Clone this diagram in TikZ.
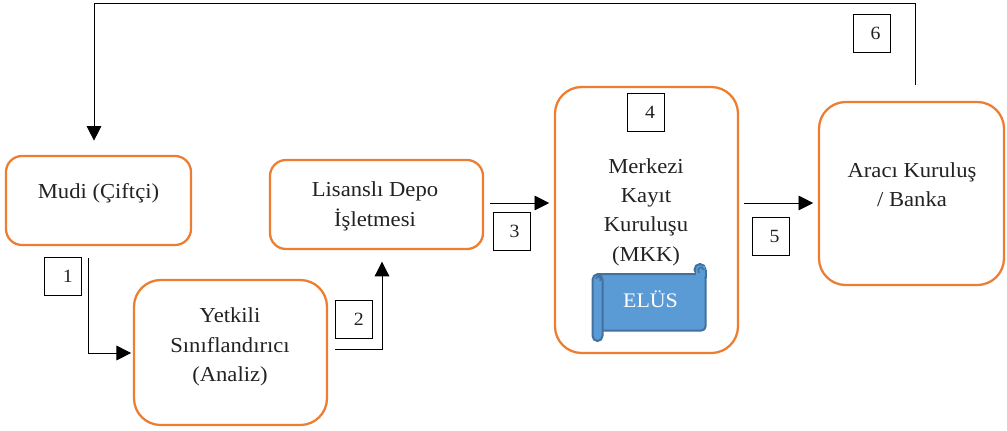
\documentclass[tikz,border=0pt]{standalone}
\usepackage{fontspec}
\setmainfont[FakeStretch=1.06]{Liberation Serif}
\usetikzlibrary{arrows.meta}
\definecolor{orangeline}{HTML}{ED7D31}
\definecolor{scrollfill}{HTML}{5B9BD5}
\definecolor{scrollline}{HTML}{41719C}
\definecolor{lab}{HTML}{222222}
\tikzset{
  x=0.75pt,y=-0.75pt,
  flowbox/.style={draw=orangeline,line width=1.7pt,rounded corners=#1,fill=white,inner sep=0pt},
  flowtext/.style={align=center,font=\fontsize{16}{22}\selectfont,text=lab,inner sep=0pt},
  numbox/.style={draw=black,line width=0.7pt,minimum width=27.8pt,minimum height=28.5pt,inner sep=0pt,font=\fontsize{14}{15}\selectfont,text=lab},
  conn/.style={draw=black,line width=0.65pt},
  arr/.style={conn,-{Triangle[length=11pt,width=11pt]}},
  scrollpart/.style={draw=scrollline,line width=1.5pt,fill=scrollfill,line join=round}
}
\newcommand{\boxat}[6]{\node[flowbox=#6,minimum width=#3*0.75pt,minimum height=#4*0.75pt] (#5) at (#1,#2) {};}
\begin{document}
\begin{tikzpicture}
\useasboundingbox (0,0) rectangle (1007,430);
% boxes
\boxat{98.5}{200.5}{185}{89}{mudi}{12pt}
\node[flowtext] (mudit) at (98.5,193) {Mudi (Çiftçi)};
\boxat{376.5}{204.5}{213}{89}{depo}{12pt}
\node[flowtext] (depot) at (375,206.5) {Lisanslı Depo\\İşletmesi};
\boxat{230.5}{352.5}{193}{145}{yetkili}{20pt}
\node[flowtext] (yetkilit) at (230,347) {Yetkili\\Sınıflandırıcı\\(Analiz)};
\boxat{646.5}{220}{183}{266}{mkk}{20pt}
\node[flowtext] (mkkt) at (646,212) {Merkezi\\Kayıt\\Kuruluşu\\(MKK)};
\boxat{911.5}{193.5}{185}{183}{banka}{20pt}
\node[flowtext] (bankat) at (912,184.5) {Aracı Kuruluş\\/ Banka};
% scroll
\draw[scrollpart] (700,269.5) circle[radius=5.5];
\draw[scrollpart,rounded corners=3pt] (594,274) rectangle (705.5,330.5);
\draw[scrollpart] (706,270) -- (706,278);
\fill[scrollfill] (703,266) rectangle (704.5,277);
\fill[scrollfill] (695.5,271) rectangle (704.5,277);
\draw[scrollpart,rounded corners=3.8pt] (592.5,274.5) rectangle (602.5,341);
\draw[scrollline,line width=1.1pt] (596,279) .. controls (597,275.5) and (602,276) .. (600,281);
\draw[scrollline,line width=1.1pt] (699,273) .. controls (696,268) and (702,265) .. (704,270);
\node[text=white,font=\fontsize{15.5}{16}\selectfont,inner sep=0pt] (elus) at (650.5,299.5) {ELÜS};
% number boxes
\node[numbox] (n1) at (62.5,276.5) {\hspace*{8pt}1};
\node[numbox] (n2) at (353.5,319) {\hspace*{8pt}2};
\node[numbox] (n3) at (512,231) {\hspace*{4pt}3};
\node[numbox] (n4) at (646,112.5) {\hspace*{6pt}4};
\node[numbox] (n5) at (770.5,236.5) {\hspace*{6pt}5};
\node[numbox] (n6) at (871.5,33.5) {\hspace*{6pt}6};
% connectors
\coordinate (c1) at (88.5,258);
\coordinate (c2) at (335,349.5);
\coordinate (c3) at (490,203);
\coordinate (c5) at (744,203);
\coordinate (c6) at (915.5,85);
\coordinate (t2) at (382,249);
\coordinate (t6) at (94,156);
\draw[arr,shorten >=1.3pt] (c1) |- (yetkili.west |- 0,353);
\draw[arr,shorten >=9.5pt] (c2) -| (t2);
\draw[arr,shorten >=3.5pt] (c3) -- (mkk.west |- c3);
\draw[arr,shorten >=3.5pt] (c5) -- (banka.west |- c5);
\draw[arr,shorten >=11.5pt] (c6) |- (94,3) -- (t6);
\end{tikzpicture}
\end{document}
